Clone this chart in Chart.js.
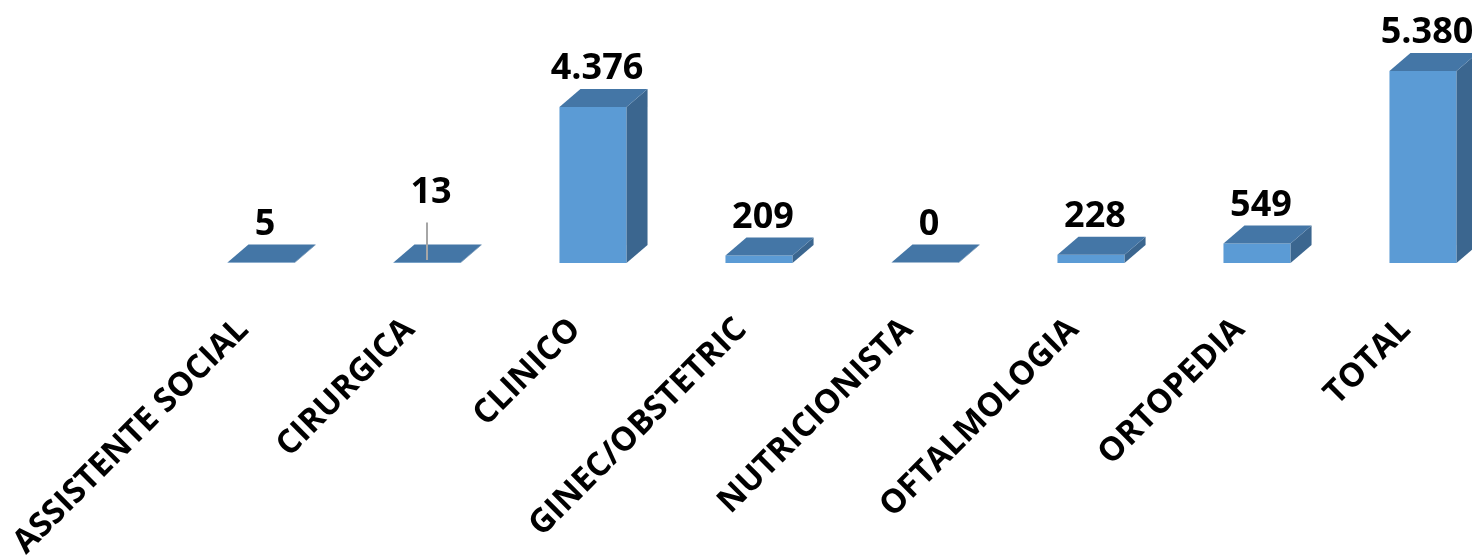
<!DOCTYPE html>
<html>
<head>
<meta charset="utf-8">
<script src="https://cdn.jsdelivr.net/npm/chart.js@4.4.0/dist/chart.umd.min.js"></script>
<style>
  html, body { margin: 0; padding: 0; background: #fff; overflow: hidden; }
  #wrap { width: 1520px; height: 560px; position: relative; }
</style>
</head>
<body>
<div id="wrap"><canvas id="specChart"></canvas></div>
<script>
// atendimentos por especialidade
const categories = ['ASSISTENTE SOCIAL', 'CIRURGICA', 'CLINICO', 'GINEC/OBSTETRIC',
                    'NUTRICIONISTA', 'OFTALMOLOGIA', 'ORTOPEDIA', 'TOTAL'];
const values = [5, 13, 4376, 209, 0, 228, 549, 5380];

const FRONT = '#5b9bd5';
const TOP = '#4476a6';
const SIDE = '#3b668f';
const DX = 21, DY = 18;

function fmt(v) {
    return String(v).replace(/\B(?=(\d{3})+(?!\d))/g, '.');
}

// fake 3D: top and side faces on each bar + value labels
const bars3d = {
    id: 'bars3d',
    afterDatasetsDraw(chart, args, opts) {
        const ctx = chart.ctx;
        const meta = chart.getDatasetMeta(0);
        meta.data.forEach((bar, i) => {
            const p = bar.getProps(['x', 'y', 'base', 'width'], true);
            const l = p.x - p.width / 2, r = p.x + p.width / 2;
            const y = Math.min(p.y, p.base - 0.5);
            ctx.save();
            ctx.fillStyle = SIDE;
            ctx.beginPath();
            ctx.moveTo(r, y);
            ctx.lineTo(r + DX, y - DY);
            ctx.lineTo(r + DX, p.base - DY);
            ctx.lineTo(r, p.base);
            ctx.closePath();
            ctx.fill();
            ctx.fillStyle = TOP;
            ctx.beginPath();
            ctx.moveTo(l, y);
            ctx.lineTo(r, y);
            ctx.lineTo(r + DX, y - DY);
            ctx.lineTo(l + DX, y - DY);
            ctx.closePath();
            ctx.fill();

            const lift = (opts.lift && opts.lift[i]) || 0;
            const ly = y - DY - 8 - lift;
            if (lift) {
                ctx.strokeStyle = '#a6a6a6';
                ctx.lineWidth = 2;
                ctx.beginPath();
                ctx.moveTo(p.x, p.base - 3);
                ctx.lineTo(p.x, ly + 18);
                ctx.stroke();
            }
            ctx.fillStyle = '#000';
            ctx.font = 'bold 36px "Open Sans"';
            ctx.textAlign = 'center';
            ctx.textBaseline = 'bottom';
            ctx.fillText(fmt(values[i]), p.x + 4, ly + 6);
            ctx.restore();
        });
    },
    // category names, rotated 45 degrees, ending just left of each tick
    afterDraw(chart) {
        const ctx = chart.ctx;
        const xs = chart.scales.x;
        ctx.save();
        ctx.fillStyle = '#000';
        ctx.font = 'bold 33px "Open Sans"';
        ctx.textAlign = 'right';
        ctx.textBaseline = 'alphabetic';
        categories.forEach((name, i) => {
            const tx = xs.getPixelForTick(i);
            ctx.save();
            ctx.translate(tx - 11, xs.top + 68);
            ctx.rotate(-Math.PI / 4);
            ctx.fillText(name, 0, 0);
            ctx.restore();
        });
        ctx.restore();
    }
};

const ctx = document.getElementById('specChart').getContext('2d');
const specChart = new Chart(ctx, {
    type: 'bar',
    data: {
        labels: categories,
        datasets: [{
            data: values,
            backgroundColor: FRONT,
            borderWidth: 0,
            barPercentage: 0.404,
            categoryPercentage: 1.0
        }]
    },
    options: {
        responsive: true,
        maintainAspectRatio: false,
        animation: false,
        layout: { padding: { left: 178, right: 14, top: 49, bottom: 0 } },
        plugins: {
            legend: { display: false },
            tooltip: { enabled: false },
            bars3d: { lift: { 1: 32 } }
        },
        scales: {
            x: {
                grid: { display: false, drawTicks: false },
                border: { display: false },
                ticks: { display: false },
                afterFit(scale) {
                    scale.height = 297;
                    scale.paddingLeft = 0;
                    scale.paddingRight = 0;
                }
            },
            y: {
                display: false,
                min: 0,
                max: 6000
            }
        }
    },
    plugins: [bars3d]
});
</script>
</body>
</html>
